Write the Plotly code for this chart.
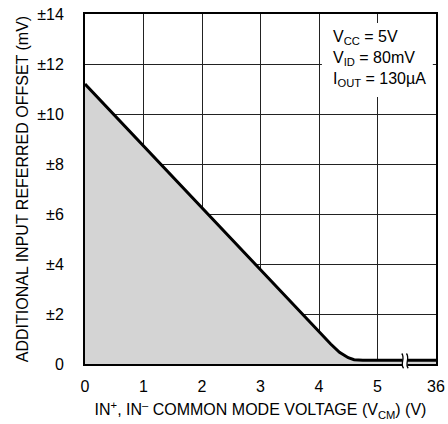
import plotly.graph_objects as go

# Data (real x in volts; 36 V end is shown after an axis break)
vcm = [0, 1, 2, 3, 4, 4.2, 4.35, 4.5, 4.6, 4.75, 5, 36]
offset = [11.2, 8.72, 6.24, 3.76, 1.26, 0.8, 0.47, 0.25, 0.17, 0.15, 0.15, 0.15]
x_tick_vals = [0, 1, 2, 3, 4, 5, 36]
x_tick_text = ["0", "1", "2", "3", "4", "5", "36"]
y_tick_vals = [0, 2, 4, 6, 8, 10, 12, 14]
y_tick_text = ["0", "±2", "±4", "±6", "±8", "±10", "±12", "±14"]
break_at = 5.47  # display position of axis break mark


def to_disp(v):
    # linear up to 5 V, then 5..36 V compressed into one division
    return v if v <= 5 else 5 + (v - 5) / 31.0


FONT = "Liberation Sans, Arial, sans-serif"
FS = 16

fig = go.Figure()
fig.add_trace(go.Scatter(
    x=[to_disp(v) for v in vcm], y=offset, mode="lines",
    line=dict(color="black", width=3),
    fill="tozeroy", fillcolor="#d4d4d4", showlegend=False,
))

# axis-break mark: white gap with two wavy strokes
b0, b1 = break_at - 0.04, break_at + 0.04
fig.add_shape(type="rect", xref="x", yref="paper", x0=b0, x1=b1, y0=-0.008, y1=0.024,
              fillcolor="white", line=dict(width=0), layer="above")
for bx in (b0, b1):
    fig.add_shape(type="path", xref="x", yref="paper", layer="above",
                  path=(f"M {bx+0.015},-0.012 C {bx-0.05},0.0 {bx+0.05},0.016 {bx-0.015},0.03"),
                  line=dict(color="black", width=1.3))

# white box behind the conditions text
fig.add_shape(type="rect", xref="paper", yref="paper", x0=0.675, x1=0.991, y0=0.763, y1=0.974,
              fillcolor="white", line=dict(width=0), layer="above")
fig.add_annotation(
    x=0.70, y=0.966, xref="paper", yref="paper", xanchor="left", yanchor="top",
    align="left", showarrow=False,
    text="V<sub>CC</sub> = 5V<br>V<sub>ID</sub> = 80mV<br>I<sub>OUT</sub> = 130µA",
    font=dict(size=FS, color="black", family=FONT),
)

fig.update_xaxes(
    range=[0, 6], tickvals=[to_disp(v) for v in x_tick_vals], ticktext=x_tick_text,
    showgrid=True, gridcolor="#222", gridwidth=1,
    showline=True, linecolor="black", linewidth=2, mirror=True,
    ticks="", zeroline=False, ticklabelstandoff=7, automargin=False,
    title=dict(text="IN<sup>+</sup>, IN<sup>–</sup> COMMON MODE VOLTAGE (V<sub>CM</sub>) (V)",
               font=dict(size=FS, family=FONT, color="black"), standoff=10),
    tickfont=dict(size=FS, family=FONT, color="black"),
)
fig.update_yaxes(
    range=[0, 14], tickvals=y_tick_vals, ticktext=y_tick_text,
    showgrid=True, gridcolor="#222", gridwidth=1,
    showline=True, linecolor="black", linewidth=2, mirror=True,
    ticks="", zeroline=False, ticklabelstandoff=16, automargin=False,
    title=dict(text="ADDITIONAL INPUT REFERRED OFFSET (mV)",
               font=dict(size=FS, family=FONT, color="black"), standoff=5),
    tickfont=dict(size=FS, family=FONT, color="black"),
)
fig.update_layout(
    width=448, height=424, margin=dict(l=85, r=12, t=14, b=60),
    paper_bgcolor="white", plot_bgcolor="white",
)
fig.write_html("out.html")
